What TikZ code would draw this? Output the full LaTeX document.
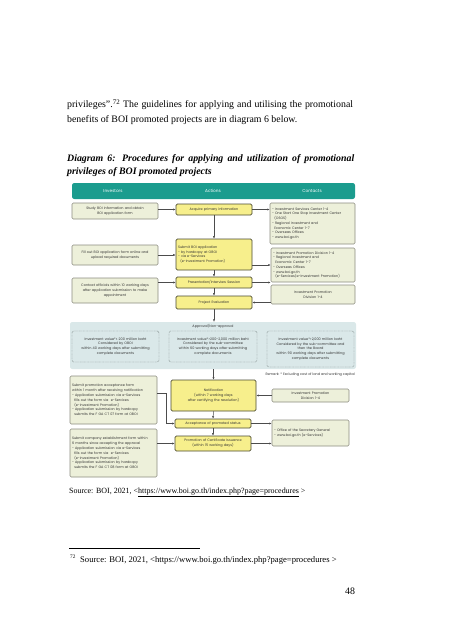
\documentclass[tikz,border=0pt]{standalone}
\usepackage{fontspec}
\setmainfont{Liberation Serif}
\newfontfamily\dfont{Poppins}
\usetikzlibrary{arrows.meta}
\newlength\pxu \setlength\pxu{1.32pt}
\definecolor{tealc}{HTML}{1B9C8E}
\definecolor{lboxc}{HTML}{EDF0DA}
\definecolor{lboxd}{HTML}{8C8C80}
\definecolor{yboxc}{HTML}{F7EF8C}
\definecolor{yboxd}{HTML}{4B4B32}
\definecolor{regc}{HTML}{DAE8E9}
\definecolor{dashd}{HTML}{7A8585}
\tikzset{
  dtext/.style={font=\dfont\fontsize{4.5}{6.3}\selectfont, text=black!80},
  lbox/.style={dtext, draw=lboxd, fill=lboxc, rounded corners=1.8pt, line width=0.7pt, align=center, inner sep=1pt},
  rbox/.style={lbox, align=left},
  ybox/.style={dtext, draw=yboxd, fill=yboxc, rounded corners=1.8pt, line width=0.9pt, align=center, inner sep=1pt},
  region/.style={fill=regc, rounded corners=3pt, inner sep=0pt},
  dbox/.style={dtext, draw=dashd, dash pattern=on 1pt off 0.8pt, rounded corners=2pt, line width=0.6pt, align=center, inner sep=1pt},
  arr/.style={-{Latex[length=3.2pt,width=2.8pt]}, line width=0.7pt, draw=black!70},
  hdr/.style={font=\dfont\fontsize{5.6}{6.5}\selectfont, text=white},
  body/.style={font=\fontsize{13}{15}\selectfont, anchor=base west, inner sep=0pt},
}
\begin{document}
\begin{tikzpicture}[x=1.32pt,y=-1.32pt]
\useasboundingbox[fill=white] (0,0) rectangle (451,640);

% body text
\node[body] (t1) at (67,107.5) {\makebox[377.5pt][s]{privileges”.\textsuperscript{72} The guidelines for applying and utilising the promotional}};
\node[body] (t2) at (67,122.5) {benefits of BOI promoted projects are in diagram 6 below.};
\node[body] (t3) at (67,161) {\makebox[379pt][s]{\bfseries\itshape Diagram 6: Procedures for applying and utilization of promotional}};
\node[body] (t4) at (67,174.5) {\bfseries\itshape privileges of BOI promoted projects};

% header
\node[fill=tealc, rounded corners=3pt, minimum width=283\pxu, minimum height=16\pxu, inner sep=0pt] (hd) at (213.5,191) {};
\node[hdr] (h1) at (113,191) {Investors};
\node[hdr] (h2) at (213,191) {Actions};
\node[hdr] (h3) at (312,191) {Contacts};

% row 1
\node[lbox, minimum width=86\pxu, minimum height=16\pxu, text width=82\pxu] (l1) at (115,211) {Study BOI information and obtain\\BOI application form};
\node[ybox, minimum width=76\pxu, minimum height=11\pxu, text width=72\pxu] (a1) at (214,209.5) {Acquire primary information};
\node[rbox, minimum width=85\pxu, minimum height=41\pxu, text width=81\pxu] (r1) at (312.5,223.5) {- Investment Services Center 1-4\\- One Start One Stop Investment Center\\\ \ (OSOS)\\- Regional Investment and\\\ \ Economic Center 1-7\\- Overseas Offices\\- www.boi.go.th};

% row 2
\node[lbox, minimum width=86\pxu, minimum height=20\pxu, text width=82\pxu] (l2) at (115,255) {Fill out BOI application form online and\\upload required documents};
\node[ybox, align=left, minimum width=76\pxu, minimum height=31\pxu, text width=72\pxu] (a2) at (214,254.5) {Submit BOI application\\- by hardcopy at OBOI\\- via e-Services\\\ \ (e-Investment Promotion)};
\node[rbox, minimum width=84\pxu, minimum height=34\pxu, text width=80\pxu] (r2) at (313,265) {- Investment Promotion Division 1-4\\- Regional Investment and\\\ \ Economic Center 1-7\\- Overseas Offices\\- www.boi.go.th\\\ \ (e-Services/e-Investment Promotion)};

% row 3
\node[lbox, minimum width=86\pxu, minimum height=25\pxu, text width=82\pxu] (l3) at (115,290.5) {Contact officials within 10 working days\\after application submission to make\\appointment};
\node[ybox, minimum width=76\pxu, minimum height=11\pxu, text width=72\pxu] (a3) at (214,282.5) {Presentation/Interview Session};
\node[lbox, minimum width=84\pxu, minimum height=19\pxu, text width=80\pxu] (r3) at (313,294.5) {Investment Promotion\\Division 1-4};
\node[ybox, minimum width=76\pxu, minimum height=13\pxu, text width=72\pxu] (a4) at (214,302.5) {Project Evaluation};

% approval region
\node[region, minimum width=286\pxu, minimum height=47\pxu] (reg) at (213,345.5) {};
\node[dtext] (appr) at (213,326) {Approval/Non-approval};
\node[dbox, minimum width=87\pxu, minimum height=31\pxu, text width=84\pxu] (d1) at (115.5,346.5) {Investment value*≤ 200 million baht\\Considered by OBOI\\within 40 working days after submitting\\complete documents};
\node[dbox, minimum width=88\pxu, minimum height=31\pxu, text width=85\pxu] (d2) at (213,346.5) {Investment value*>200-2,000 million baht\\Considered by the sub-committee\\within 60 working days after submitting\\complete documents};
\node[dbox, minimum width=87\pxu, minimum height=36\pxu, text width=84\pxu] (d3) at (310.5,349) {Investment value*>2,000 million baht\\Considered by the sub-committee and\\then the Board\\within 90 working days after submitting\\complete documents};
\node[dtext, anchor=east, inner sep=0pt] (rem) at (355,375) {Remark: * Excluding cost of land and working capital};

% notification
\node[ybox, minimum width=85\pxu, minimum height=31\pxu, text width=81\pxu] (a5) at (213.5,395.5) {Notification\\(within 7 working days\\after certifying the resolution)};
\node[lbox, minimum width=77\pxu, minimum height=13\pxu, text width=73\pxu] (r4) at (310.5,395.5) {Investment Promotion\\Division 1-4};
\node[rbox, minimum width=87\pxu, minimum height=48\pxu, text width=83\pxu] (l4) at (113.5,400) {Submit promotion acceptance form\\within 1 month after receiving notification\\- Application submission via e-Services\\\ \ fills out the form via\ \ e-Services\\\ \ (e-Investment Promotion)\\- Application submission by hardcopy\\\ \ submits the F GA CT 07 form at OBOI};
\node[ybox, minimum width=76\pxu, minimum height=9\pxu, text width=72\pxu] (a6) at (213,423.5) {Acceptance of promoted status};
\node[rbox, minimum width=77\pxu, minimum height=26\pxu, text width=73\pxu] (r5) at (310.5,433) {- Office of the Secretary General\\- www.boi.go.th (e-Services)};
\node[ybox, minimum width=76\pxu, minimum height=15\pxu, text width=72\pxu] (a7) at (213,443.5) {Promotion of Certificate Issuance\\(within 15 working days)};
\node[rbox, minimum width=87\pxu, minimum height=48\pxu, text width=83\pxu] (l5) at (113.5,453) {Submit company establishment form within\\6 months since accepting the approval\\- Application submission via e-Services\\\ \ fills out the form via\ \ e-Services\\\ \ (e-Investment Promotion)\\- Application submission by hardcopy\\\ \ submits the F GA CT 08 form at OBOI};

% arrows
\draw[arr] (l1.east |- a1.west) -- (a1.west);
\draw[arr] (a1.east) -- (a1.east -| r1.west);
\draw[arr] (a1.south) -- (a2.north);
\draw[arr] (l2.east) -- (l2.east -| a2.west);
\draw[arr] (a2.east |- r2.center) -- (r2.west);
\draw[arr] (a2.south) -- (a3.north);
\draw[arr] (l3.east |- a3.west) -- (a3.west);
\draw[arr] (a3.east) -- (a3.east -| r3.west);
\draw[arr] (r3.west |- a4.east) -- (a4.east);
\draw[arr] (a3.south) -- (a4.north);
\draw[arr] (a4.south) -- (a4.south |- reg.north);
\draw[arr] (reg.south -| a5.north) -- (a5.north);
\draw[arr] (r4.west) -- (r4.west -| a5.east);
\draw[arr] ([yshift=9pt]l4.east) -- ++(9,0) |- (a6.west);
\draw[arr] (a5.south) -- (a6.north);
\draw[arr] (a6.east) -- (a6.east -| r5.west);
\draw[arr] (a6.south) -- (a7.north);
\draw[arr] (a7.east) -- (a7.east -| r5.west);
\draw[arr] (l5.east |- a7.west) -- (a7.west);

% source and footnote
\node[body, font=\fontsize{10.5}{12}\selectfont] (src) at (69,493) {Source: BOI, 2021, <\underline{https://www.boi.go.th/index.php?page=procedures} >};
\coordinate (fr1) at (69,548);
\coordinate (fr2) at (200,548);
\draw[line width=0.5pt] (fr1) -- (fr2);
\node[body, font=\fontsize{11.4}{13}\selectfont] (fn) at (70,562) {\textsuperscript{\fontsize{7}{8}\selectfont 72}\ \ Source: BOI, 2021, <https://www.boi.go.th/index.php?page=procedures >};
\node[body, anchor=base] (pg) at (350,594) {48};
\end{tikzpicture}
\end{document}
